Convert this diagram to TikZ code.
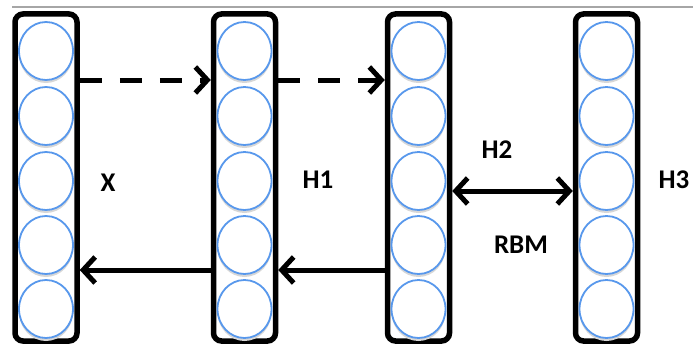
\documentclass[tikz,border=0pt]{standalone}
\usepackage{fontspec}
\setmainfont{Carlito}
\usetikzlibrary{arrows.meta,shapes.geometric}
\definecolor{neuron}{RGB}{88,152,236}
\definecolor{shade}{RGB}{215,215,215}
\tikzset{
  layerbox/.style={draw=black, line width=5.5pt, rounded corners=8pt},
  neuronc/.style={draw=neuron, line width=1.8pt, fill=white},
  neuronshadow/.style={fill=shade, draw=none},
  tipb/.tip={Straight Barb[length=12pt,width=26pt,line width=5pt]},
  conn/.style={line width=5pt, -tipb},
  dconn/.style={conn, dash pattern=on 22pt off 18pt},
  biconn/.style={line width=5pt, tipb-tipb},
  lbl/.style={font=\fontsize{27}{30}\selectfont\bfseries, inner sep=0pt}
}
\begin{document}
\begin{tikzpicture}[x=1pt,y=-1pt]
\useasboundingbox (0,0) rectangle (693,345);
\draw[gray!70, line width=1.5pt] (12,7) -- (693,7);
% layers
\foreach \n/\cx in {L0/46, L1/244.5, L2/418.5, L3/606.5}{
  \node[layerbox, minimum width=62pt, minimum height=327pt, inner sep=0pt] (\n) at (\cx,177.5) {};
  \foreach \i/\cy in {1/51, 2/116, 3/181, 4/245, 5/309}{
    \fill[neuronshadow] (\cx,\cy+3) ellipse (27pt and 29pt);
    \node[neuronc, ellipse, minimum width=54pt, minimum height=58pt, inner sep=0pt] (\n c\i) at (\cx,\cy) {};
  }
}
% connectors
\coordinate (a1) at (L0.east |- 0,80);
\coordinate (b1) at (L1.west |- 0,80);
\coordinate (a2) at (L1.east |- 0,80);
\coordinate (b2) at (L2.west |- 0,80);
\draw[dconn] (a1) -- (b1);
\draw[dconn] (a2) -- (b2);
\coordinate (a3) at (L2.east |- 0,191);
\coordinate (b3) at (L3.west |- 0,191);
\draw[biconn] (a3) -- (b3);
\coordinate (a4) at (L2.west |- 0,270);
\coordinate (b4) at (L1.east |- 0,270);
\coordinate (a5) at (L1.west |- 0,270);
\coordinate (b5) at (L0.east |- 0,270);
\draw[conn] (a4) -- (b4);
\draw[conn] (a5) -- (b5);
% labels
\node[lbl] (lx) at (108,183) {X};
\node[lbl] (lh1) at (318,180) {H1};
\node[lbl] (lh2) at (497,150) {H2};
\node[lbl] (lrbm) at (521,245) {RBM};
\node[lbl] (lh3) at (674,180) {H3};
\end{tikzpicture}
\end{document}
